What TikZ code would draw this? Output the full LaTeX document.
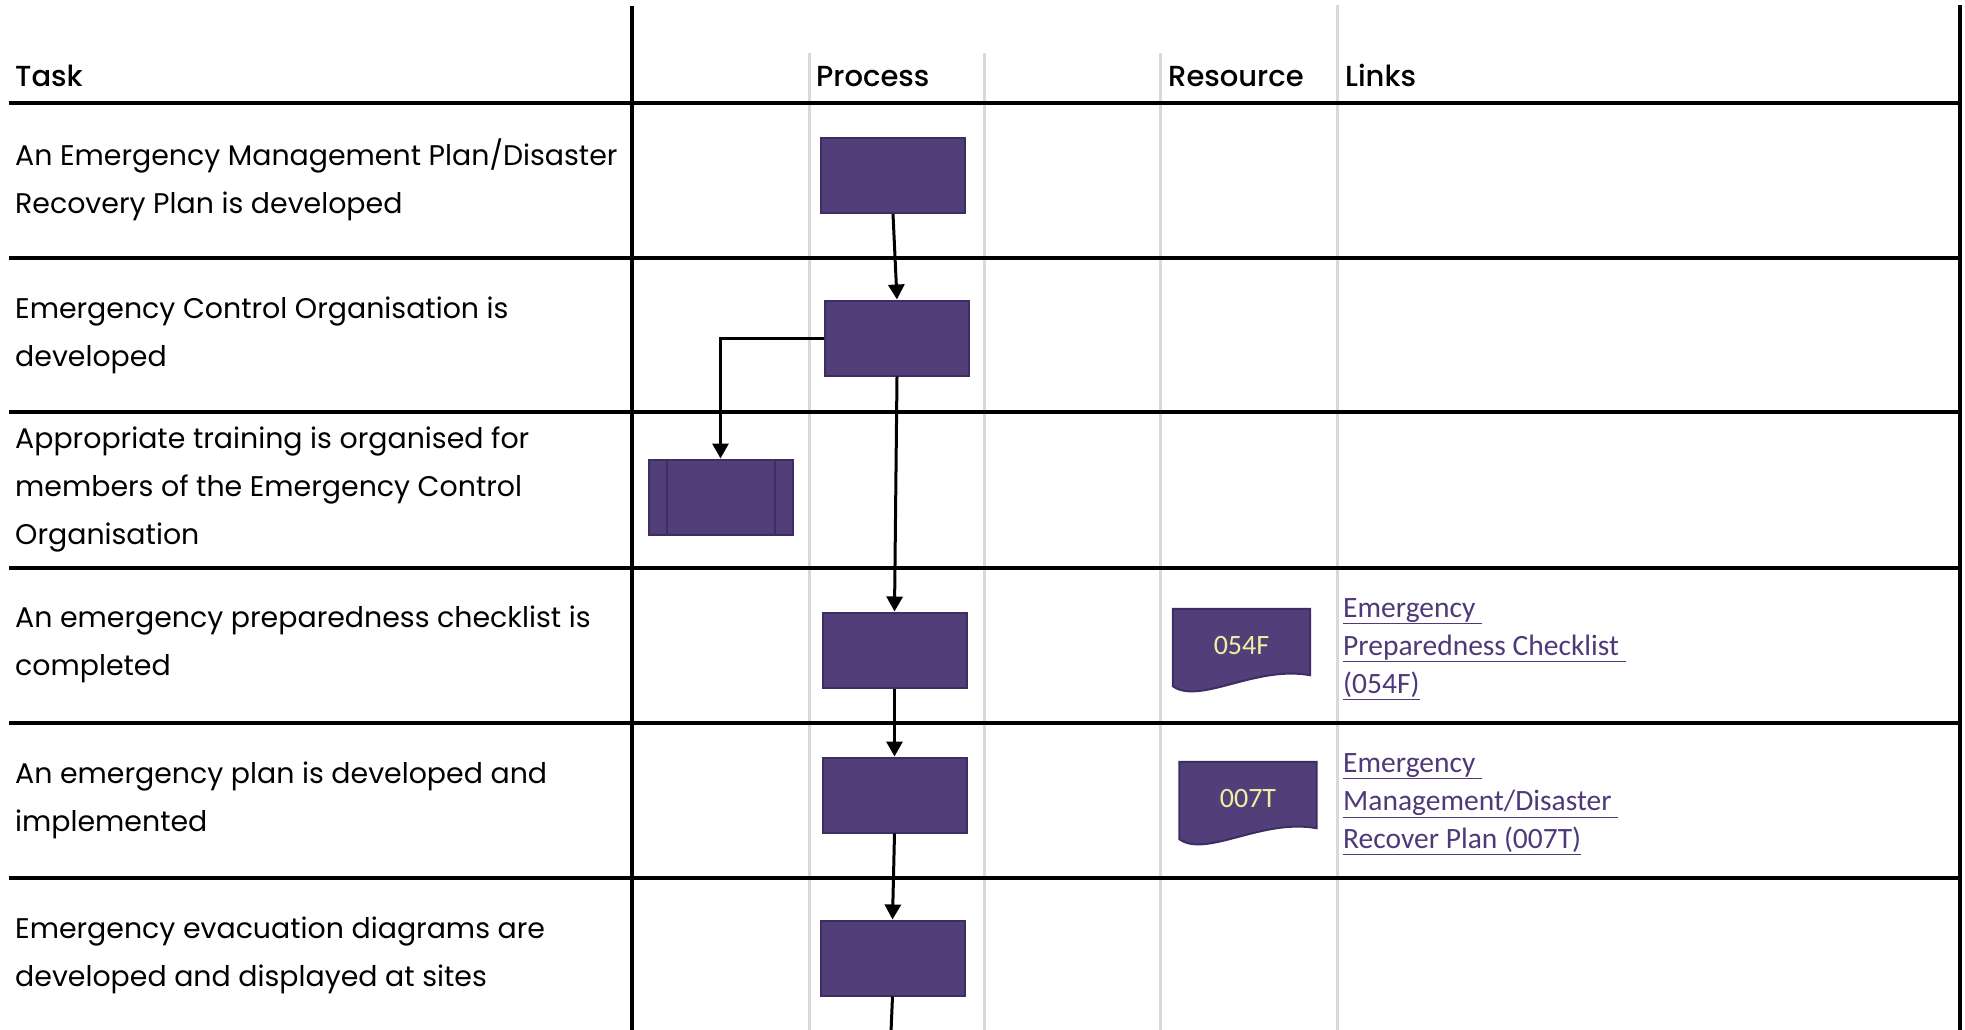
\documentclass[tikz,border=0pt]{standalone}
\usepackage{fontspec}
\setmainfont{Poppins}
\newfontfamily\headfont{Poppins Medium}
\newfontfamily\linkfont{Carlito}
\usetikzlibrary{arrows.meta,backgrounds}
\definecolor{procfill}{HTML}{523E79}
\definecolor{procline}{HTML}{3E2D63}
\definecolor{gridgray}{HTML}{D9D9D9}
\definecolor{codetext}{HTML}{EEF0A2}
\definecolor{linkcol}{HTML}{4E3A78}
\tikzset{
  proc/.style={rectangle, fill=procfill, draw=procline, line width=2pt,
    minimum width=144pt, minimum height=75pt, inner sep=0pt},
  docbox/.style={rectangle, minimum width=137pt, minimum height=77pt, inner sep=0pt,
    text=codetext, font=\linkfont\fontsize{28}{32}\selectfont},
  docshape/.style={fill=procfill, draw=procline, line width=2pt},
  flow/.style={line width=3pt, -{Triangle[width=16pt,length=15pt]}},
  rule/.style={line width=4pt},
  lane/.style={gridgray, line width=3pt},
  head/.style={anchor=base west, inner sep=0pt, font=\headfont\fontsize{29}{34}\selectfont},
  task/.style={anchor=west, align=left, inner sep=0pt, font=\fontsize{28.4}{48}\selectfont},
  link/.style={anchor=west, align=left, inner sep=0pt, text=linkcol,
    font=\linkfont\fontsize{29.5}{38.2}\selectfont}
}

\begin{document}
\begin{tikzpicture}[x=1pt, y=-1pt]
  \useasboundingbox (0,0) rectangle (1965,1030);
  \draw[lane] (809,53) -- (809,1030) (984,53) -- (984,1030) (1160,53) -- (1160,1030) (1337,5) -- (1337,1030);
  \draw[rule] (632,6) -- (632,1030);
  \draw[rule] (1960,5) -- (1960,1030);
  \foreach \y in {103,258,412,568,723,878}
    \draw[rule] (9,\y) -- (1962,\y);

  \node[head] (task) at (15,87) {Task};
  \node[head] (process) at (816,87) {Process};
  \node[head] (resource) at (1168,87) {Resource};
  \node[head] (links) at (1345,87) {Links};

  \node[task] (t1) at (15,180) {An Emergency Management Plan/Disaster\\Recovery Plan is developed};
  \node[task] (t2) at (15,335) {Emergency Control Organisation is\\developed};
  \node[task] (t3) at (15,489) {Appropriate training is organised for\\members of the Emergency Control\\Organisation};
  \node[task] (t4) at (15,644.5) {An emergency preparedness checklist is\\completed};
  \node[task] (t5) at (15,800) {An emergency plan is developed and\\implemented};
  \node[task] (t6) at (15,955.5) {Emergency evacuation diagrams are\\developed and displayed at sites};

  \node[proc] (p1) at (893,175.5) {};
  \node[proc] (p2) at (897,338) {};
  \node[proc] (p3) at (720.5,497) {};
  \node[proc] (p4) at (894.5,650) {};
  \node[proc] (p5) at (894.5,795) {};
  \node[proc] (p6) at (892.5,958) {};
  \draw[procline, line width=2pt] ([xshift=19pt]p3.north west) -- ([xshift=19pt]p3.south west)
    ([xshift=-19pt]p3.north east) -- ([xshift=-19pt]p3.south east);
  \coordinate (pend) at (891,1032);

  \draw[flow] (p1.south) -- (p2.north);
  \draw[flow] (p2.west) -| (p3.north);
  \draw[flow] (p2.south) -- (p4.north);
  \draw[flow] (p4.south) -- (p5.north);
  \draw[flow] (p5.south) -- (p6.north);
  \draw[line width=3pt] (p6.south) -- (pend);

  \node[docbox] (d1) at (1241.5,647.5) {\raisebox{4pt}{054F}};
  \node[docbox] (d2) at (1248,800.5) {\raisebox{4pt}{007T}};
  \begin{scope}[on background layer]
    \foreach \d in {d1,d2}
      \filldraw[docshape] (\d.north west) -- (\d.north east) -- ([yshift=11pt]\d.south east)
        .. controls +(-55,-10) and +(27,19) .. (\d.south west) -- cycle;
  \end{scope}

  \node[link] (l1) at (1343,649) {\underline{Emergency\ }\\\underline{Preparedness Checklist\ }\\\underline{(054F)}};
  \node[link] (l2) at (1343,804) {\underline{Emergency\ }\\\underline{Management/Disaster\ }\\\underline{Recover Plan (007T)}};
\end{tikzpicture}
\end{document}
